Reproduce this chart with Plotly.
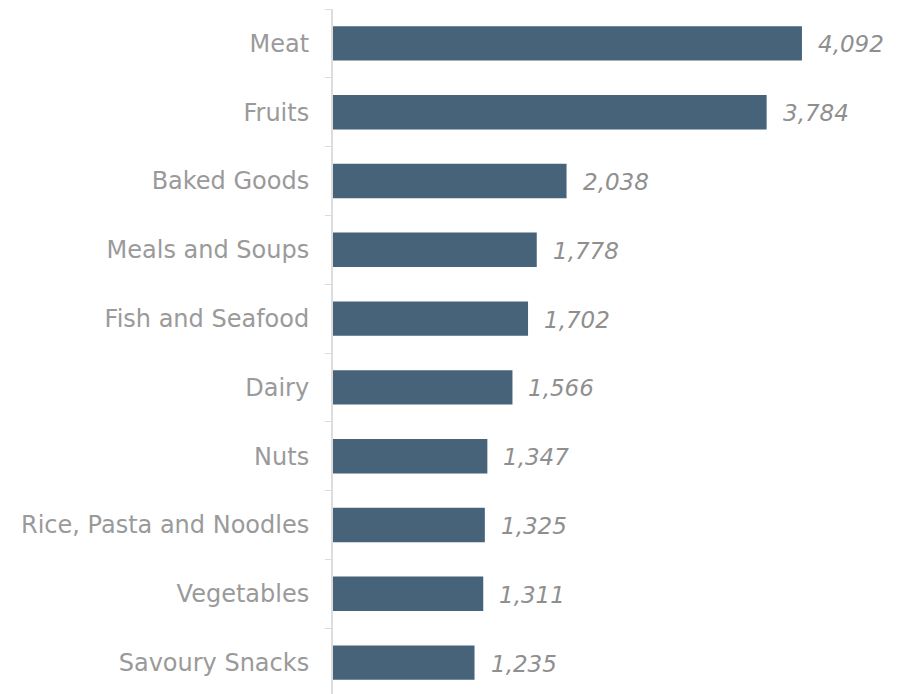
import plotly.graph_objects as go

categories = ["Meat", "Fruits", "Baked Goods", "Meals and Soups", "Fish and Seafood",
              "Dairy", "Nuts", "Rice, Pasta and Noodles", "Vegetables", "Savoury Snacks"]
values = [4092, 3784, 2038, 1778, 1702, 1566, 1347, 1325, 1311, 1235]

FONT = "DejaVu Sans"
fig = go.Figure()
fig.add_trace(go.Bar(
    y=categories, x=values, orientation="h", width=0.5,
    marker=dict(color="#46637a", line=dict(width=0)),
    hoverinfo="skip",
))
for c, v in zip(categories, values):
    fig.add_annotation(x=v, y=c, text=f"<i>{v:,}</i>", showarrow=False,
                       xanchor="left", xshift=14, yshift=-1,
                       font=dict(family=FONT, size=23, color="#8f8f8f"))

fig.update_layout(
    width=899, height=697,
    margin=dict(l=333, r=0, t=9, b=0),
    paper_bgcolor="white", plot_bgcolor="white",
    showlegend=False,
    font=dict(family=FONT, size=24, color="#9a9a9a"),
    xaxis=dict(range=[0, 4939], visible=False, fixedrange=True),
    yaxis=dict(categoryorder="array", categoryarray=categories[::-1],
               showline=True, linecolor="#dddddd", linewidth=2,
               ticks="outside", tickson="boundaries", ticklen=6, tickcolor="#dddddd",
               tickwidth=1, ticklabelstandoff=17, showgrid=False, zeroline=False,
               tickfont=dict(family=FONT, size=24, color="#9a9a9a")),
)
fig.write_html("out.html")
